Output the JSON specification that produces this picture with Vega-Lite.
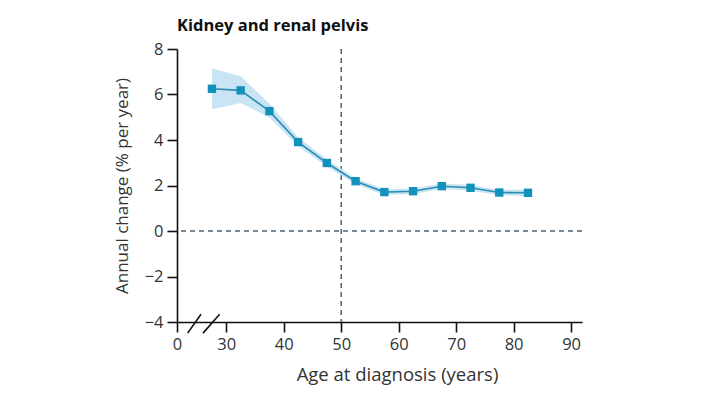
{
  "$schema": "https://vega.github.io/schema/vega-lite/v6.json",
  "autosize": {"type": "none"},
  "width": 405,
  "height": 273,
  "padding": {"left": 177, "top": 49, "right": 128, "bottom": 73},
  "background": "white",
  "config": {
    "view": {"stroke": null},
    "font": "Open Sans",
    "axis": {"grid": false, "domainColor": "#111", "tickColor": "#111", "domainWidth": 1.6, "tickWidth": 1.6, "labelColor": "#333", "titleColor": "#333", "labelFont": "Open Sans", "titleFont": "Open Sans", "labelFontSize": 16.5, "titleFontSize": 17, "titleFontWeight": "normal"}
  },
  "title": {"text": "Kidney and renal pelvis", "anchor": "start", "frame": "group", "fontSize": 16.5, "fontWeight": "bold", "font": "Open Sans", "color": "#111", "offset": 7},
  "datasets": {
    "trend": [
      {"age": 27.5, "apc": 6.25, "lo": 5.35, "hi": 7.15},
      {"age": 32.5, "apc": 6.18, "lo": 5.63, "hi": 6.8},
      {"age": 37.5, "apc": 5.27, "lo": 4.99, "hi": 5.6},
      {"age": 42.5, "apc": 3.91, "lo": 3.72, "hi": 4.12},
      {"age": 47.5, "apc": 2.99, "lo": 2.84, "hi": 3.15},
      {"age": 52.5, "apc": 2.19, "lo": 2.06, "hi": 2.32},
      {"age": 57.5, "apc": 1.71, "lo": 1.58, "hi": 1.84},
      {"age": 62.5, "apc": 1.75, "lo": 1.63, "hi": 1.87},
      {"age": 67.5, "apc": 1.97, "lo": 1.85, "hi": 2.09},
      {"age": 72.5, "apc": 1.9, "lo": 1.78, "hi": 2.02},
      {"age": 77.5, "apc": 1.69, "lo": 1.57, "hi": 1.81},
      {"age": 82.5, "apc": 1.68, "lo": 1.54, "hi": 1.82}
    ],
    "breaks": [
      {"x1": 23.27, "y1": -4.49, "x2": 25.6, "y2": -3.66},
      {"x1": 25.95, "y1": -4.49, "x2": 28.84, "y2": -3.66}
    ]
  },
  "layer": [
    {
      "data": {"values": [{"v": 0}]},
      "mark": {"type": "rule", "strokeDash": [5, 4], "color": "#4f6272", "strokeWidth": 1.5},
      "encoding": {"y": {"field": "v", "type": "quantitative", "scale": {"domain": [-4, 8]}}}
    },
    {
      "data": {"values": [{"v": 50}]},
      "mark": {"type": "rule", "strokeDash": [5, 4], "color": "#4f6272", "strokeWidth": 1.5},
      "encoding": {"x": {"field": "v", "type": "quantitative", "scale": {"domain": [21.42, 91.9]}}}
    },
    {
      "data": {"name": "trend"},
      "mark": {"type": "area", "color": "#c9e5f3", "opacity": 1},
      "encoding": {
        "x": {"field": "age", "type": "quantitative", "scale": {"domain": [21.42, 91.9], "nice": false, "zero": false},
          "axis": {"values": [21.42, 30, 40, 50, 60, 70, 80, 90], "labelExpr": "datum.value < 25 ? '0' : datum.label", "labelFlush": false, "title": "Age at diagnosis (years)", "titleFontSize": 18.5, "titleX": 220, "titlePadding": 13, "tickSize": 10, "labelPadding": 4}},
        "y": {"field": "lo", "type": "quantitative", "scale": {"domain": [-4, 8], "nice": false},
          "axis": {"values": [-4, -2, 0, 2, 4, 6, 8], "labelExpr": "replace(datum.label, '-', '−')", "labelFlush": false, "title": "Annual change (% per year)", "tickSize": 10, "labelPadding": 4, "titlePadding": 13}},
        "y2": {"field": "hi"}
      }
    },
    {
      "data": {"name": "trend"},
      "mark": {"type": "line", "color": "#2b8cb6", "strokeWidth": 1.6},
      "encoding": {
        "x": {"field": "age", "type": "quantitative"},
        "y": {"field": "apc", "type": "quantitative"}
      }
    },
    {
      "data": {"name": "trend"},
      "mark": {"type": "square", "color": "#1391bd", "opacity": 1, "size": 70},
      "encoding": {
        "x": {"field": "age", "type": "quantitative"},
        "y": {"field": "apc", "type": "quantitative"}
      }
    },
    {
      "data": {"name": "breaks"},
      "mark": {"type": "rule", "color": "#111", "strokeWidth": 1.6, "clip": false},
      "encoding": {
        "x": {"field": "x1", "type": "quantitative"},
        "y": {"field": "y1", "type": "quantitative"},
        "x2": {"field": "x2"},
        "y2": {"field": "y2"}
      }
    }
  ]
}
